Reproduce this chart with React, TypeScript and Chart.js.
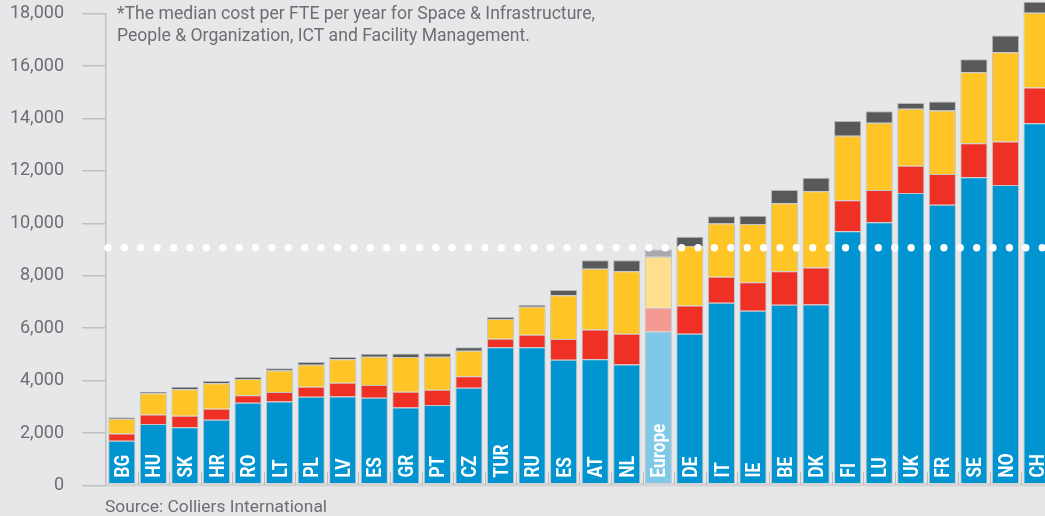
import React, { useEffect, useRef } from "react";
import { Chart, registerables } from "chart.js";

Chart.register(...registerables);

const categories = ["BG", "HU", "SK", "HR", "RO", "LT", "PL", "LV", "ES", "GR", "PT", "CZ", "TUR", "RU", "ES", "AT", "NL", "Europe", "DE", "IT", "IE", "BE", "DK", "FI", "LU", "UK", "FR", "SE", "NO", "CH"];

const spaceInfrastructure = [1710, 2350, 2220, 2510, 3160, 3200, 3390, 3400, 3350, 2980, 3070, 3730, 5270, 5270, 4800, 4820, 4620, 5880, 5790, 6970, 6670, 6900, 6910, 9700, 10040, 11160, 10710, 11760, 11460, 13820];
const peopleOrganization = [270, 355, 445, 420, 280, 370, 380, 520, 485, 595, 585, 435, 330, 480, 790, 1130, 1170, 900, 1080, 990, 1080, 1270, 1410, 1180, 1230, 1040, 1170, 1300, 1660, 1360];
const ict = [570, 815, 1005, 970, 620, 815, 840, 895, 1080, 1325, 1260, 975, 750, 1070, 1665, 2315, 2380, 1945, 2270, 2035, 2225, 2595, 2910, 2465, 2565, 2175, 2430, 2710, 3410, 2860];
const facilityManagement = [55, 60, 100, 90, 75, 90, 105, 85, 115, 140, 130, 130, 75, 75, 200, 330, 420, 280, 350, 280, 315, 505, 515, 560, 445, 215, 345, 495, 635, 420];

const europeAverage = 9070;
const yTicks = [0, 2000, 4000, 6000, 8000, 10000, 12000, 14000, 16000, 18000];
const noteLines = [
  "*The median cost per FTE per year for Space & Infrastructure,",
  "People & Organization, ICT and Facility Management.",
];
const sourceText = "Source: Colliers International";
const highlightLabel = "Europe";

const BG = "#e6e7e8";
const TEXT = "#6d6e71";

function colorsFor(main: string, light: string) {
  return categories.map((c) => (c === highlightLabel ? light : main));
}

const overlayPlugin = {
  id: "overlay",
  afterDatasetsDraw(chart: any) {
    const { ctx, scales, chartArea } = chart;
    const x = scales.x;
    const y = scales.y;
    const y0 = y.getPixelForValue(0);
    ctx.save();

    // baseline band
    ctx.fillStyle = "#d3d4d6";
    ctx.fillRect(chartArea.left, y0 - 2.5, chart.width - chartArea.left, 3.5);

    // separators between bars
    ctx.strokeStyle = "#b9babc";
    ctx.lineWidth = 1;
    for (let i = 0; i < categories.length - 1; i++) {
      const xm = Math.round((x.getPixelForValue(i) + x.getPixelForValue(i + 1)) / 2) + 0.5;
      ctx.beginPath();
      ctx.moveTo(xm, y0 - 13);
      ctx.lineTo(xm, y0 - 1);
      ctx.stroke();
    }

    // bar labels (rotated)
    ctx.fillStyle = "#ffffff";
    ctx.font = "bold 20px Roboto";
    ctx.textAlign = "left";
    ctx.textBaseline = "alphabetic";
    const capH = 14.2;
    categories.forEach((c, i) => {
      const cx = x.getPixelForValue(i);
      ctx.save();
      ctx.translate(cx, y0 - 8);
      ctx.rotate(-Math.PI / 2);
      ctx.scale(0.86, 1);
      ctx.fillText(c, 0, capH / 2);
      ctx.restore();
    });

    // dotted average line
    const ya = y.getPixelForValue(europeAverage);
    ctx.strokeStyle = "#ffffff";
    ctx.lineWidth = 7.3;
    ctx.lineCap = "round";
    ctx.setLineDash([0, 16.39]);
    ctx.beginPath();
    ctx.moveTo(chartArea.left + 2, ya);
    ctx.lineTo(chart.width, ya);
    ctx.stroke();
    ctx.setLineDash([]);

    // note text
    ctx.fillStyle = TEXT;
    ctx.font = "17.6px Roboto";
    ctx.textAlign = "left";
    ctx.textBaseline = "alphabetic";
    ctx.fillText(noteLines[0], 117, 18.5);
    ctx.fillText(noteLines[1], 117, 40.5);

    // source
    ctx.font = "17.4px Roboto";
    ctx.fillText(sourceText, 105, 511.5);

    ctx.restore();
  },
};

export default function App() {
  const ref = useRef<HTMLCanvasElement | null>(null);

  useEffect(() => {
    if (!ref.current) return;
    const border = "rgba(165,166,168,0.55)";
    const chart = new Chart(ref.current, {
      type: "bar",
      data: {
        labels: categories,
        datasets: [
          {
            label: "Space & Infrastructure",
            data: spaceInfrastructure,
            backgroundColor: colorsFor("#0094d1", "#80c8e8"),
            borderColor: border,
            borderWidth: 1,
            clip: false as any,
          },
          {
            label: "People & Organization",
            data: peopleOrganization,
            backgroundColor: colorsFor("#ee3124", "#f59a93"),
            borderColor: border,
            borderWidth: 1,
            clip: false as any,
          },
          {
            label: "ICT",
            data: ict,
            backgroundColor: colorsFor("#ffc526", "#ffdf8e"),
            borderColor: border,
            borderWidth: 1,
            clip: false as any,
          },
          {
            label: "Facility Management",
            data: facilityManagement,
            backgroundColor: colorsFor("#58595b", "#a7a9ac"),
            borderColor: "rgba(175,176,178,0.9)",
            borderWidth: 1,
            clip: false as any,
          },
        ],
      },
      options: {
        responsive: false,
        animation: false,
        devicePixelRatio: 1,
        layout: { padding: { top: 13.7, bottom: 30.5, left: 0, right: 7.2 } },
        plugins: {
          legend: { display: false },
          tooltip: { enabled: false },
        },
        datasets: {
          bar: { barPercentage: 0.86, categoryPercentage: 1 },
        },
        scales: {
          x: {
            stacked: true,
            display: false,
            offset: true,
          },
          y: {
            stacked: true,
            min: 0,
            max: 18000,
            afterBuildTicks: (s: any) => {
              s.ticks = yTicks.map((v) => ({ value: v }));
            },
            afterFit: (s: any) => {
              s.width = 106;
              s.paddingTop = 0;
              s.paddingBottom = 0;
            },
            grid: {
              drawOnChartArea: false,
              drawTicks: true,
              tickLength: 24,
              color: "#bfc0c2",
              lineWidth: 1.5,
            },
            border: { display: true, color: "#bfc0c2", width: 1.5 },
            ticks: {
              padding: 18,
              color: TEXT,
              font: { family: "Roboto", size: 18 },
              callback: (v: any) => Number(v).toLocaleString("en-US"),
            },
          },
        },
      },
      plugins: [overlayPlugin],
    });
    return () => chart.destroy();
  }, []);

  return (
    <div
      style={{
        position: "fixed",
        left: 0,
        top: 0,
        width: 1045,
        height: 516,
        overflow: "hidden",
        background: BG,
      }}
    >
      <canvas ref={ref} width={1060} height={516} style={{ display: "block" }} />
    </div>
  );
}
